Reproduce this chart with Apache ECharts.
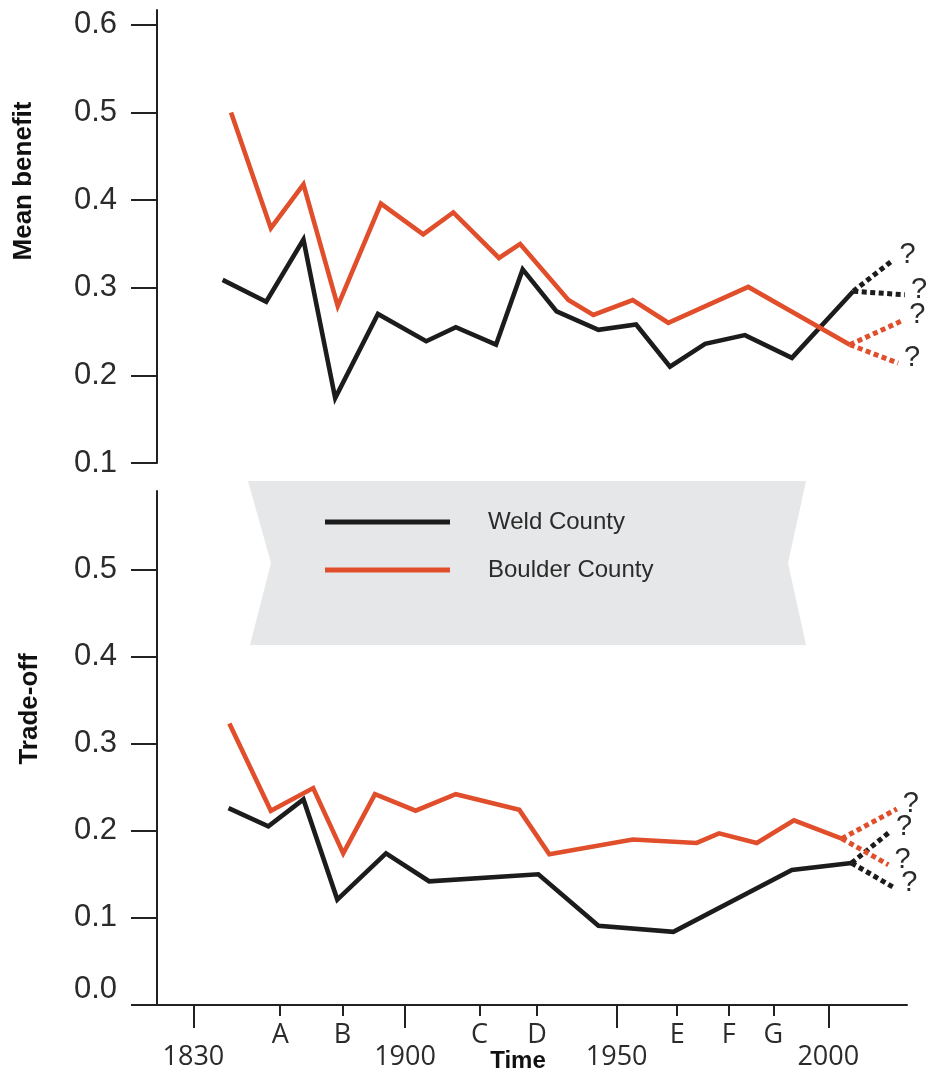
<!DOCTYPE html>
<html>
<head>
<meta charset="utf-8">
<script src="https://cdn.jsdelivr.net/npm/echarts@6/dist/echarts.min.js"></script>
<style>
  html, body { margin: 0; padding: 0; background: #ffffff; }
  #chart { width: 932px; height: 1078px; }
</style>
</head>
<body>
<div id="chart"></div>
<script>
// Time axis positions. The axis is compressed before 1900: the "1830" tick sits at position 1850.
const yearTicks = [1850, 1900, 1950, 2000];
const yearLabels = ['1830', '1900', '1950', '2000'];
const eventTicks = [1870.5, 1885.2, 1917.6, 1931.2, 1964.3, 1976.5, 1987.0];
const eventLabels = ['A', 'B', 'C', 'D', 'E', 'F', 'G'];

const benefitTicks = [0.1, 0.2, 0.3, 0.4, 0.5, 0.6];
const tradeoffTicks = [0.0, 0.1, 0.2, 0.3, 0.4, 0.5];

// Mean benefit, [time position, value]
const weldBenefit = [
  [1856.9, 0.309], [1867.2, 0.284], [1876.0, 0.355], [1883.5, 0.174], [1893.6, 0.270],
  [1905.0, 0.239], [1912.0, 0.255], [1921.5, 0.235], [1927.8, 0.321], [1935.8, 0.273],
  [1945.7, 0.252], [1954.6, 0.258], [1962.6, 0.210], [1970.9, 0.236], [1980.3, 0.246],
  [1991.4, 0.220], [2005.9, 0.296]
];
const boulderBenefit = [
  [1858.9, 0.500], [1868.3, 0.368], [1876.0, 0.418], [1884.1, 0.279], [1894.3, 0.396],
  [1904.3, 0.361], [1911.4, 0.386], [1922.2, 0.334], [1927.2, 0.350], [1938.6, 0.286],
  [1944.5, 0.269], [1953.8, 0.286], [1962.2, 0.260], [1981.1, 0.301], [2005.1, 0.235]
];
// Possible future paths (end points), drawn dashed from the last observed value
const weldBenefitFutures = [[2015.4, 0.332], [2018.1, 0.292]];
const boulderBenefitFutures = [[2017.7, 0.263], [2016.5, 0.214]];

// Trade-off, [time position, value]
const weldTradeoff = [
  [1858.3, 0.226], [1867.7, 0.205], [1876.0, 0.236], [1884.0, 0.121], [1895.5, 0.174],
  [1905.7, 0.142], [1931.5, 0.150], [1945.7, 0.091], [1963.4, 0.084], [1991.4, 0.155],
  [2005.5, 0.163]
];
const boulderTradeoff = [
  [1858.5, 0.323], [1868.3, 0.223], [1878.3, 0.249], [1885.4, 0.174], [1892.9, 0.242],
  [1902.5, 0.223], [1912.0, 0.242], [1927.0, 0.224], [1934.1, 0.173], [1953.8, 0.190],
  [1968.9, 0.186], [1974.2, 0.197], [1983.1, 0.186], [1991.9, 0.212], [2003.2, 0.191]
];
const weldTradeoffFutures = [[2014.6, 0.199], [2015.8, 0.134]];
const boulderTradeoffFutures = [[2016.2, 0.225], [2014.2, 0.161]];

const WELD = '#1c1c1c';
const BOULDER = '#e04e2b';
const AXIS = '#222222';
const TEXT = '#2b2b2b';
const SANS = 'Liberation Sans, Arial, sans-serif';
const X_MIN = 1841.4, X_MAX = 2018.6;

const chart = echarts.init(document.getElementById('chart'), null, { renderer: 'canvas' });

function solid(name, data, color, xi, yi) {
  return {
    type: 'line', name: name, data: data, xAxisIndex: xi, yAxisIndex: yi,
    showSymbol: false, symbol: 'none', silent: true,
    itemStyle: { color: color },
    lineStyle: { color: color, width: 4.6, join: 'miter', cap: 'butt' },
    z: 3
  };
}

function future(source, endPoint, color, xi, yi) {
  const start = source[source.length - 1];
  return {
    type: 'line', data: [start, endPoint],
    xAxisIndex: xi, yAxisIndex: yi,
    showSymbol: false, symbol: 'none', silent: true,
    itemStyle: { color: color },
    lineStyle: { color: color, width: 5, type: [5, 3.5], cap: 'butt' },
    endLabel: {
      show: true, formatter: '?', distance: 6, offset: [0, -5],
      fontFamily: SANS, fontSize: 29, color: TEXT
    },
    z: 2
  };
}

const series = [
  solid('Weld County', weldBenefit, WELD, 0, 0),
  solid('Boulder County', boulderBenefit, BOULDER, 0, 0),
  solid('Weld County', weldTradeoff, WELD, 1, 1),
  solid('Boulder County', boulderTradeoff, BOULDER, 1, 1)
];
weldBenefitFutures.forEach(p => series.push(future(weldBenefit, p, WELD, 0, 0)));
boulderBenefitFutures.forEach(p => series.push(future(boulderBenefit, p, BOULDER, 0, 0)));
weldTradeoffFutures.forEach(p => series.push(future(weldTradeoff, p, WELD, 1, 1)));
boulderTradeoffFutures.forEach(p => series.push(future(boulderTradeoff, p, BOULDER, 1, 1)));

const yLabelStyle = {
  fontFamily: SANS, fontSize: 31, color: TEXT, margin: 40,
  formatter: v => v.toFixed(1)
};
const xLabelFont = { fontFamily: 'Open Sans, sans-serif', fontSize: 27, color: TEXT };

const option = {
  backgroundColor: '#ffffff',
  animation: false,
  grid: [
    { left: 157, right: 25, top: 10, height: 453 },
    { left: 157, right: 25, top: 491, height: 514 }
  ],
  xAxis: [
    { type: 'value', gridIndex: 0, min: X_MIN, max: X_MAX, show: false },
    {
      type: 'value', gridIndex: 1, min: X_MIN, max: X_MAX, position: 'bottom',
      axisLine: { show: true, onZero: false, lineStyle: { color: AXIS, width: 2 } },
      axisTick: { show: true, customValues: eventTicks, length: 11, lineStyle: { color: AXIS, width: 2 } },
      axisLabel: Object.assign({ customValues: eventTicks, margin: 17,
        formatter: v => eventLabels[eventTicks.indexOf(v)] }, xLabelFont),
      splitLine: { show: false }
    },
    {
      type: 'value', gridIndex: 1, min: X_MIN, max: X_MAX, position: 'bottom',
      axisLine: { show: false, onZero: false },
      axisTick: { show: true, customValues: yearTicks, length: 23, lineStyle: { color: AXIS, width: 2 } },
      axisLabel: Object.assign({ customValues: yearTicks, margin: 39,
        formatter: v => yearLabels[yearTicks.indexOf(v)] }, xLabelFont),
      splitLine: { show: false }
    }
  ],
  yAxis: [
    {
      type: 'value', gridIndex: 0, min: 0.1, max: 0.617,
      axisLine: { show: true, onZero: false, lineStyle: { color: AXIS, width: 2 } },
      axisTick: { show: true, customValues: benefitTicks, length: 26, lineStyle: { color: AXIS, width: 2 } },
      axisLabel: Object.assign({ customValues: benefitTicks }, yLabelStyle),
      splitLine: { show: false }
    },
    {
      type: 'value', gridIndex: 1, min: 0, max: 0.59,
      axisLine: { show: true, onZero: false, lineStyle: { color: AXIS, width: 2 } },
      axisTick: { show: true, customValues: tradeoffTicks, length: 26, lineStyle: { color: AXIS, width: 2 } },
      axisLabel: Object.assign({ customValues: tradeoffTicks, verticalAlignMinLabel: 'bottom' }, yLabelStyle),
      splitLine: { show: false }
    }
  ],
  legend: {
    data: ['Weld County', 'Boulder County'],
    orient: 'vertical', left: 325, top: 508, padding: 0,
    icon: 'rect', itemWidth: 125, itemHeight: 5, itemGap: 20,
    selectedMode: false,
    textStyle: {
      fontFamily: SANS, fontSize: 24, color: TEXT,
      lineHeight: 28, padding: [0, 0, 0, 33]
    }
  },
  graphic: [
    {
      type: 'polygon', z: 0, silent: true,
      shape: { points: [[248, 481], [806, 481], [788, 563], [806, 645], [250, 645], [271, 563]] },
      style: { fill: '#e6e7e8' }
    },
    {
      type: 'text', x: 24, y: 181, rotation: Math.PI / 2, silent: true,
      style: { text: 'Mean benefit', fontFamily: SANS, fontWeight: 'bold',
        fontSize: 26, fill: '#111', align: 'center', verticalAlign: 'middle' }
    },
    {
      type: 'text', x: 30, y: 709, rotation: Math.PI / 2, silent: true,
      style: { text: 'Trade-off', fontFamily: SANS, fontWeight: 'bold',
        fontSize: 26, fill: '#111', align: 'center', verticalAlign: 'middle' }
    },
    {
      type: 'text', x: 518, y: 1061, silent: true,
      style: { text: 'Time', fontFamily: SANS, fontWeight: 'bold',
        fontSize: 24, fill: '#111', align: 'center', verticalAlign: 'middle' }
    }
  ],
  series: series
};

chart.setOption(option);
</script>
</body>
</html>
